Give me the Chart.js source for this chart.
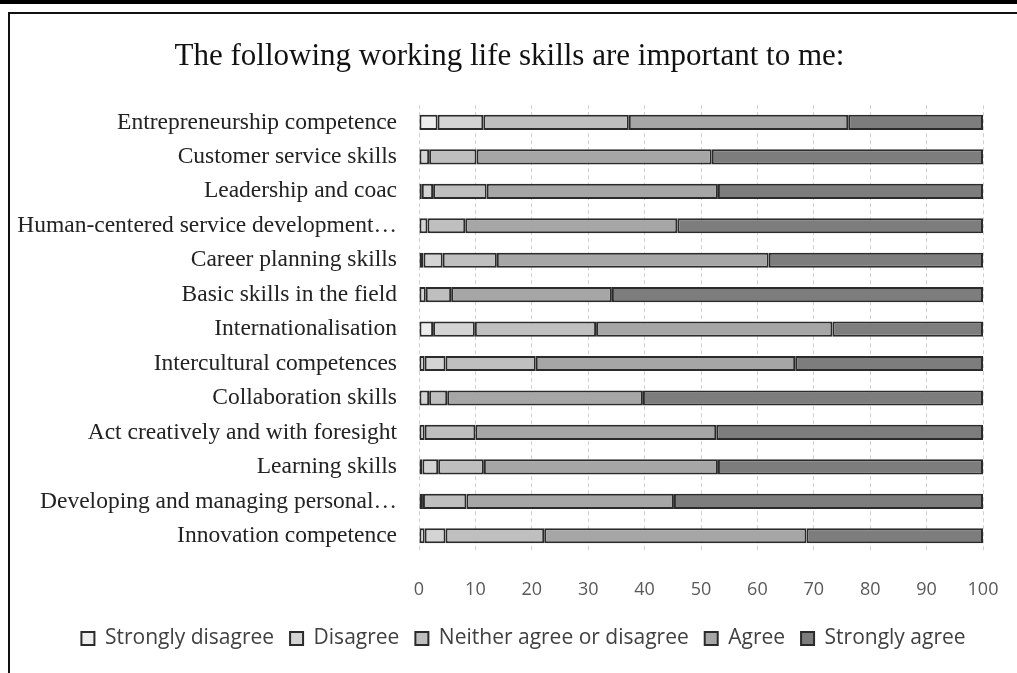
<!DOCTYPE html>
<html>
<head>
<meta charset="utf-8">
<script src="https://cdn.jsdelivr.net/npm/chart.js@4"></script>
<style>
  html, body { margin: 0; padding: 0; background: #fff; }
  body { width: 1017px; height: 673px; overflow: hidden; position: relative; }
  .topband { position: absolute; left: 0; top: 0; width: 1017px; height: 4px; background: #000; }
  .frame { position: absolute; left: 8px; top: 12px; width: 1009px; height: 661px;
           border-top: 2px solid #111; border-left: 2px solid #111; box-sizing: border-box; }
  .wrap { position: absolute; left: 10px; top: 14px; width: 1007px; height: 659px; }
</style>
</head>
<body>
<div class="topband"></div>
<div class="frame"></div>
<div class="wrap"><canvas id="skillsChart"></canvas></div>
<script>
const skills = [
    'Entrepreneurship competence',
    'Customer service skills',
    'Leadership and coac',
    'Human-centered service development…',
    'Career planning skills',
    'Basic skills in the field',
    'Internationalisation',
    'Intercultural competences',
    'Collaboration skills',
    'Act creatively and with foresight',
    'Learning skills',
    'Developing and managing personal…',
    'Innovation competence'
];

// percent of answers, same order as skills
const stronglyDisagree = [3.3, 0, 0.5, 0, 0.8, 0, 2.5, 1.0, 0, 0, 0.6, 0, 1.0];
const disagree         = [8.1, 1.8, 2.0, 1.5, 3.4, 1.2, 7.4, 3.7, 1.8, 1.0, 2.8, 0.7, 3.7];
const neither          = [25.8, 8.4, 9.5, 6.7, 9.6, 4.5, 21.5, 16.0, 3.2, 9.0, 8.1, 7.7, 17.5];
const agree            = [38.9, 41.7, 41.0, 37.6, 48.2, 28.5, 41.9, 46.0, 34.7, 42.7, 41.5, 36.8, 46.5];
const stronglyAgree    = [23.9, 48.1, 47.0, 54.2, 38.0, 65.8, 26.7, 33.3, 60.3, 47.3, 47.0, 54.8, 31.3];

const xTicks = [0, 10, 20, 30, 40, 50, 60, 70, 80, 90, 100];

const ctx = document.getElementById('skillsChart').getContext('2d');

function series(label, data, color) {
    return {
        label: label,
        data: data,
        backgroundColor: color,
        borderColor: '#2b2b2b',
        borderWidth: 2,
        borderSkipped: false,
        barPercentage: 0.44,
        categoryPercentage: 1.0
    };
}

// title and legend sit a bit right of the centre in the original
const nudgeBoxes = {
    id: 'nudgeBoxes',
    afterLayout(chart) {
        chart.legend.left += 27;
        chart.legend.right += 27;
        chart.titleBlock.left += 13;
        chart.titleBlock.right += 13;
    }
};

const skillsChart = new Chart(ctx, {
    type: 'bar',
    data: {
        labels: skills,
        datasets: [
            series('Strongly disagree', stronglyDisagree, '#eeeeee'),
            series('Disagree', disagree, '#d4d4d4'),
            series('Neither agree or disagree', neither, '#bfbfbf'),
            series('Agree', agree, '#a6a6a6'),
            series('Strongly agree', stronglyAgree, '#7d7d7d')
        ]
    },
    plugins: [nudgeBoxes],
    options: {
        indexAxis: 'y',
        responsive: true,
        maintainAspectRatio: false,
        animation: false,
        layout: { padding: { left: 0, right: 34, top: 0, bottom: 14 } },
        plugins: {
            title: {
                display: true,
                text: 'The following working life skills are important to me:',
                color: '#111',
                font: { family: "'Liberation Serif', 'Times New Roman', serif", size: 31, weight: 'normal' },
                padding: { top: 24, bottom: 30 }
            },
            legend: {
                position: 'bottom',
                labels: {
                    color: '#404040',
                    boxWidth: 13,
                    boxHeight: 13,
                    padding: 16,
                    font: { family: "'Open Sans', sans-serif", size: 21 }
                }
            },
            tooltip: { enabled: false }
        },
        scales: {
            x: {
                stacked: true,
                min: 0,
                max: 100,
                afterBuildTicks: function (scale) {
                    scale.ticks = xTicks.map(v => ({ value: v }));
                },
                afterFit: function (scale) {
                    scale.height = 59;
                    scale.paddingRight = 0;
                },
                grid: {
                    color: '#d0d0d0',
                    lineWidth: 1,
                    drawTicks: false
                },
                // dashed grid lines
                border: { display: false, dash: [4, 3] },
                ticks: {
                    color: '#595959',
                    padding: 26,
                    font: { family: "'Open Sans', sans-serif", size: 18 }
                }
            },
            y: {
                stacked: true,
                grid: { display: false, drawTicks: false },
                border: { display: false },
                afterFit: function (scale) { scale.width = 409; },
                ticks: {
                    color: '#222',
                    padding: 22,
                    autoSkip: false,
                    font: { family: "'Liberation Serif', 'Times New Roman', serif", size: 23.5 }
                }
            }
        }
    }
});
</script>
</body>
</html>
